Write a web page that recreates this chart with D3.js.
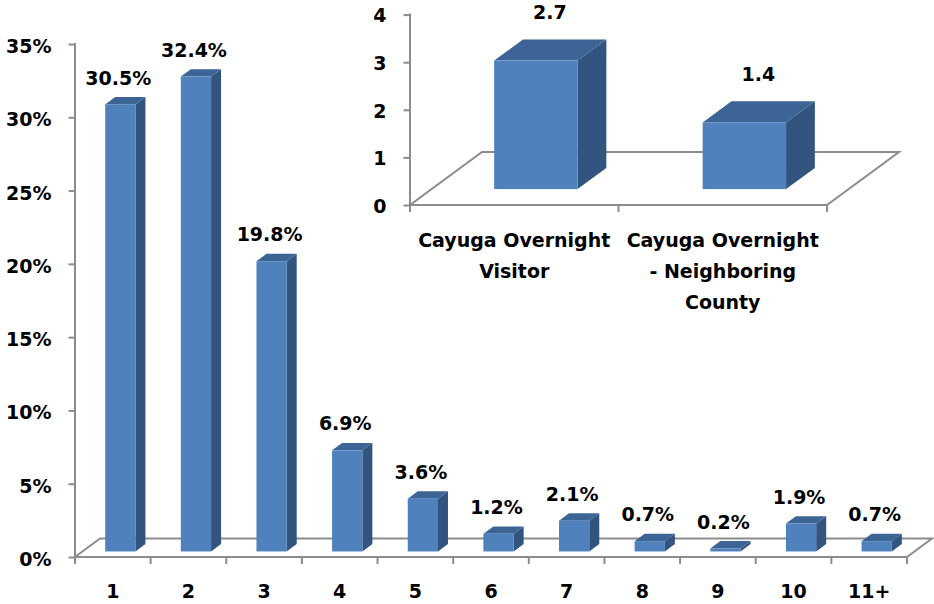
<!DOCTYPE html>
<html>
<head>
<meta charset="utf-8">
<script src="https://cdn.jsdelivr.net/npm/d3@7"></script>
<style>
  html, body { margin: 0; padding: 0; background: #ffffff; }
  svg text { font-family: "DejaVu Sans", sans-serif; font-weight: bold; fill: #000; }
</style>
</head>
<body>
<svg id="chart" width="934" height="604"></svg>
<script>
// ---------- data ----------
const categories = ["1", "2", "3", "4", "5", "6", "7", "8", "9", "10", "11+"];
const shareValues = [30.5, 32.4, 19.8, 6.9, 3.6, 1.2, 2.1, 0.7, 0.2, 1.9, 0.7];
const shareTicks = [0, 5, 10, 15, 20, 25, 30, 35];

const insetCategories = ["Cayuga Overnight Visitor", "Cayuga Overnight - Neighboring County"];
const insetLabelLines = [["Cayuga Overnight", "Visitor"], ["Cayuga Overnight", "- Neighboring", "County"]];
const insetValues = [2.7, 1.4];
const insetTicks = [0, 1, 2, 3, 4];

// ---------- styles ----------
const FRONT = "#4f81bd", TOP = "#3c6595", SIDE = "#32547f";
const AXIS = "#8c8c8c";
const FONT = 19;

const svg = d3.select("#chart");

function draw3DChart(cfg) {
  const g = svg.append("g");
  const x = d3.scaleBand().domain(cfg.cats).range([cfg.x0, cfg.x1]).padding(0);
  const y = d3.scaleLinear().domain(cfg.domain).range([cfg.yBase, cfg.yTop]);
  const D = cfg.depth; // floor depth vector
  const off = { dx: D.dx * 0.3, dy: D.dy * 0.3 };
  const bd = { dx: D.dx * 0.4, dy: D.dy * 0.4 };
  const bw = x.bandwidth() * 0.4;
  const base = y(0);

  // floor
  const floor = [
    [cfg.x0, base], [cfg.x1, base], [cfg.x1 + D.dx, base + D.dy], [cfg.x0 + D.dx, base + D.dy]
  ];
  g.append("path")
    .attr("d", d3.line()(floor) + "Z")
    .attr("fill", "none").attr("stroke", AXIS).attr("stroke-width", 2)
    .attr("stroke-linejoin", "miter");

  // category ticks at band boundaries
  const bounds = cfg.cats.map(c => x(c)).concat([cfg.x1]);
  g.selectAll(".ctick").data(bounds).join("line")
    .attr("x1", d => d).attr("x2", d => d)
    .attr("y1", base).attr("y2", base + 7)
    .attr("stroke", AXIS).attr("stroke-width", 2);

  // y axis
  const ax = g.append("g").attr("transform", `translate(${cfg.x0 - 0.5},0)`)
    .call(d3.axisLeft(y).tickValues(cfg.ticks).tickFormat(cfg.fmt)
      .tickSize(6).tickSizeOuter(0).tickPadding(17));
  ax.select(".domain").attr("stroke", AXIS).attr("stroke-width", 2)
    .attr("d", `M0.5,${cfg.yTop - 1}V${base + 7}`);
  ax.selectAll(".tick line").attr("stroke", AXIS).attr("stroke-width", 2);
  ax.selectAll(".tick text").attr("font-size", FONT).attr("dy", cfg.tickDy)
    .attr("font-family", "DejaVu Sans").attr("font-weight", "bold").attr("fill", "#000");

  // bars
  const bars = g.selectAll(".bar").data(cfg.vals.map((v, i) => ({ v, c: cfg.cats[i] })))
    .join("g");
  bars.each(function (d) {
    const gg = d3.select(this);
    const fx = x(d.c) + x.bandwidth() / 2 - bw / 2 + off.dx;
    const fb = base + off.dy;
    const ft = y(d.v) + off.dy;
    // side face
    gg.append("path").attr("d", d3.line()([
      [fx + bw, fb], [fx + bw + bd.dx, fb + bd.dy], [fx + bw + bd.dx, ft + bd.dy], [fx + bw, ft]
    ]) + "Z").attr("fill", SIDE);
    // top face
    gg.append("path").attr("d", d3.line()([
      [fx, ft], [fx + bw, ft], [fx + bw + bd.dx, ft + bd.dy], [fx + bd.dx, ft + bd.dy]
    ]) + "Z").attr("fill", TOP);
    // front face
    gg.append("rect").attr("x", fx).attr("y", ft).attr("width", bw).attr("height", fb - ft)
      .attr("fill", FRONT);
    // value label
    gg.append("text")
      .attr("x", fx + bw / 2 + cfg.labelDx)
      .attr("y", ft + bd.dy - cfg.labelGap)
      .attr("text-anchor", "middle").attr("font-size", FONT)
      .text(cfg.valFmt(d.v));
  });

  // category labels
  g.selectAll(".clabel").data(cfg.cats).join("text")
    .attr("x", d => x(d) + x.bandwidth() / 2)
    .attr("y", cfg.catY)
    .attr("text-anchor", "middle").attr("font-size", FONT)
    .each(function (d, i) {
      const lines = cfg.catLines ? cfg.catLines[i] : [d];
      d3.select(this).selectAll("tspan").data(lines).join("tspan")
        .attr("x", x(d) + x.bandwidth() / 2)
        .attr("dy", (l, j) => j === 0 ? 0 : 31)
        .text(l => l);
    });
}

// main chart
draw3DChart({
  cats: categories, vals: shareValues, ticks: shareTicks,
  x0: 75, x1: 907, yBase: 557, yTop: 44, domain: [0, 35],
  depth: { dx: 25, dy: -18.5 },
  fmt: d => d + "%", valFmt: v => v.toFixed(1) + "%",
  tickDy: "0.45em", labelDx: -2, labelGap: 12.5, catY: 598
});

// inset chart
draw3DChart({
  cats: insetCategories, vals: insetValues, ticks: insetTicks, catLines: insetLabelLines,
  x0: 410, x1: 827, yBase: 205, yTop: 14.6, domain: [0, 4],
  depth: { dx: 72, dy: -53 },
  fmt: d => d, valFmt: v => v.toFixed(1),
  tickDy: "0.38em", labelDx: 14, labelGap: 20, catY: 247
});
</script>
</body>
</html>
